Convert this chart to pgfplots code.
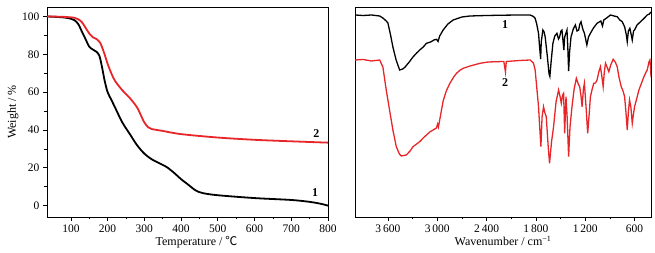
\documentclass[border=0pt]{standalone}
\usepackage{fontspec}
\setmainfont{Liberation Serif}
\newfontfamily\cjk{Noto Sans CJK SC}
\usepackage{pgfplots}
\pgfplotsset{compat=1.18}
\definecolor{tgared}{HTML}{E8262A}

\pgfplotsset{panel/.style={
  scale only axis, height=210pt,
  tick align=outside, major tick length=4pt, minor tick length=2.5pt,
  axis line style={line width=0.9pt}, every tick/.style={black, line width=0.7pt},
  tick label style={font=\fontsize{11.5}{13}\selectfont},
  label style={font=\fontsize{12}{14}\selectfont},
  /pgf/number format/assume math mode=true,
  xtick pos=bottom,
}}

\begin{document}
\begin{tikzpicture}
\path (-47pt,-36pt) rectangle (608pt,217pt);

% TGA
\begin{axis}[panel, at={(0,0)}, anchor=south west, width=281pt,
  xmin=35, xmax=800, ymin=-6, ymax=105,
  xtick={100,200,...,800}, ytick={0,20,...,100},
  minor x tick num=1, minor y tick num=1, ytick pos=left,
  xlabel={Temperature / {\cjk ℃}}, ylabel={Weight / \%},
  xlabel style={yshift=3pt, xshift=9pt}, ylabel style={yshift=-3pt}]
\addplot[black, line width=1.8pt, smooth] coordinates {
(35,100) (80,99.5) (100,98.8) (110,98) (120,96) (130,92) (140,88) (150,84)
(160,82.5) (170,81.3) (178,79) (185,73) (192,66) (200,60) (210,56) (220,52)
(240,44) (260,38) (280,32) (300,27.5) (320,24.5) (340,22.5) (360,20.5)
(380,17.5) (400,14) (420,11) (440,8) (460,6.6) (500,5.5) (600,4) (700,3)
(750,2) (780,1) (800,0)};
\addplot[tgared, line width=1.8pt, smooth] coordinates {
(35,100) (80,99.8) (110,99.3) (120,98.5) (130,97) (140,94) (150,91) (160,89)
(170,88) (180,86) (190,81) (200,75) (210,70) (220,66) (240,61) (260,57)
(280,52) (290,48) (300,44) (310,41.5) (320,40.5) (350,39.5) (400,37.8)
(500,36) (600,34.8) (700,34) (800,33.3)};
\node[font=\bfseries\fontsize{12}{14}\selectfont] at (axis cs:765,7) {1};
\node[font=\bfseries\fontsize{12}{14}\selectfont] at (axis cs:768,38) {2};
\end{axis}

% FT-IR
\begin{axis}[panel, at={(308pt,0)}, anchor=south west, width=296pt,
  xmin=400, xmax=4000, x dir=reverse, ymin=0, ymax=210,
  xtick={600,1200,...,3600}, minor x tick num=1, ytick=\empty,
  /pgf/number format/1000 sep={\,},
  xlabel={Wavenumber / cm\textsuperscript{−1}}, xlabel style={yshift=3pt}]
\addplot[black, line width=1.3pt] coordinates {
(4000,202) (3900,201.5) (3800,202) (3700,201) (3661,199) (3620,196) (3600,194)
(3570,183) (3539,170) (3500,157) (3457,147) (3420,148) (3396,149.5) (3340,155)
(3295,160) (3250,164) (3213,167) (3170,170) (3131,173.7) (3080,175) (3040,177)
(3009,177.7) (2990,175.5) (2970,181) (2928,187) (2870,193) (2806,197)
(2700,200) (2602,201) (2400,201.5) (2200,201.8) (2000,202) (1870,202)
(1830,200.5) (1809,198.7) (1790,193) (1768,183.7) (1755,170) (1742,158)
(1735,175) (1715,187) (1700,185) (1687,180) (1660,160) (1640,143) (1630,140.5)
(1615,155) (1593,173.7) (1570,181) (1544,183.7) (1525,178) (1512,180) (1495,186)
(1483,187) (1470,176) (1460,167) (1450,180) (1422,187) (1412,170) (1402,146)
(1390,165) (1373,180) (1345,188) (1320,192) (1300,186) (1280,187) (1265,193)
(1251,195.3) (1230,188) (1210,183.7) (1195,178) (1180,172) (1160,180)
(1137,183.7) (1100,189) (1056,193.7) (1010,196) (990,191) (974,197) (940,199)
(893,202) (850,201) (811,200.3) (780,197) (750,195.3) (720,190) (700,182)
(689,175.3) (675,186) (657,188.7) (640,182) (628,177) (612,186) (600,187)
(570,192) (527,195.3) (480,199) (446,202) (420,203) (400,205)};
\addplot[tgared, line width=1.3pt] coordinates {
(4000,157) (3900,157.5) (3800,156) (3700,157) (3661,150) (3620,127) (3580,107)
(3539,87) (3498,70.3) (3460,63) (3437,61) (3376,62) (3330,66) (3295,70.3)
(3250,73) (3213,75.3) (3170,79) (3131,82) (3090,85) (3050,87) (3010,89)
(2995,93) (2985,90) (2970,97) (2950,106) (2928,116) (2890,126) (2846,133.7)
(2800,140) (2765,143.7) (2720,147) (2683,148.7) (2600,151) (2479,153.7)
(2380,155) (2276,155.3) (2190,155.5) (2170,145) (2160,155.5) (2000,156.5)
(1870,157) (1830,154) (1809,147) (1790,130) (1768,110.3) (1750,85) (1739,70.3)
(1725,100) (1707,110.3) (1690,104) (1674,100.3) (1650,70) (1634,53.7)
(1610,75) (1585,90.3) (1555,115) (1524,127) (1505,120) (1491,113.7)
(1475,122) (1463,123.7) (1450,83.7) (1434,120.3) (1420,100) (1402,60.3)
(1385,90) (1361,110.3) (1335,128) (1308,138.7) (1285,133) (1267,130.3)
(1250,120) (1238,110.3) (1222,128) (1210,133.7) (1190,110) (1170,83.7)
(1150,105) (1137,120.3) (1115,128) (1096,133.7) (1075,134) (1056,137)
(1035,145) (1015,150.3) (1000,142) (982,130.3) (968,145) (953,153.7)
(935,150) (913,145.3) (890,152) (860,157.7) (835,155) (811,150.3) (790,140)
(762,130.3) (740,126) (721,120.3) (705,105) (689,87) (675,105) (661,117)
(645,110) (628,93.7) (615,102) (600,110.3) (575,118) (547,127) (515,134)
(486,140.3) (460,145) (446,147) (425,155) (413,157) (405,150) (400,140)};
\node[font=\bfseries\fontsize{12}{14}\selectfont] at (axis cs:2175,192) {1};
\node[font=\bfseries\fontsize{12}{14}\selectfont] at (axis cs:2175,134) {2};
\end{axis}
\end{tikzpicture}
\end{document}
